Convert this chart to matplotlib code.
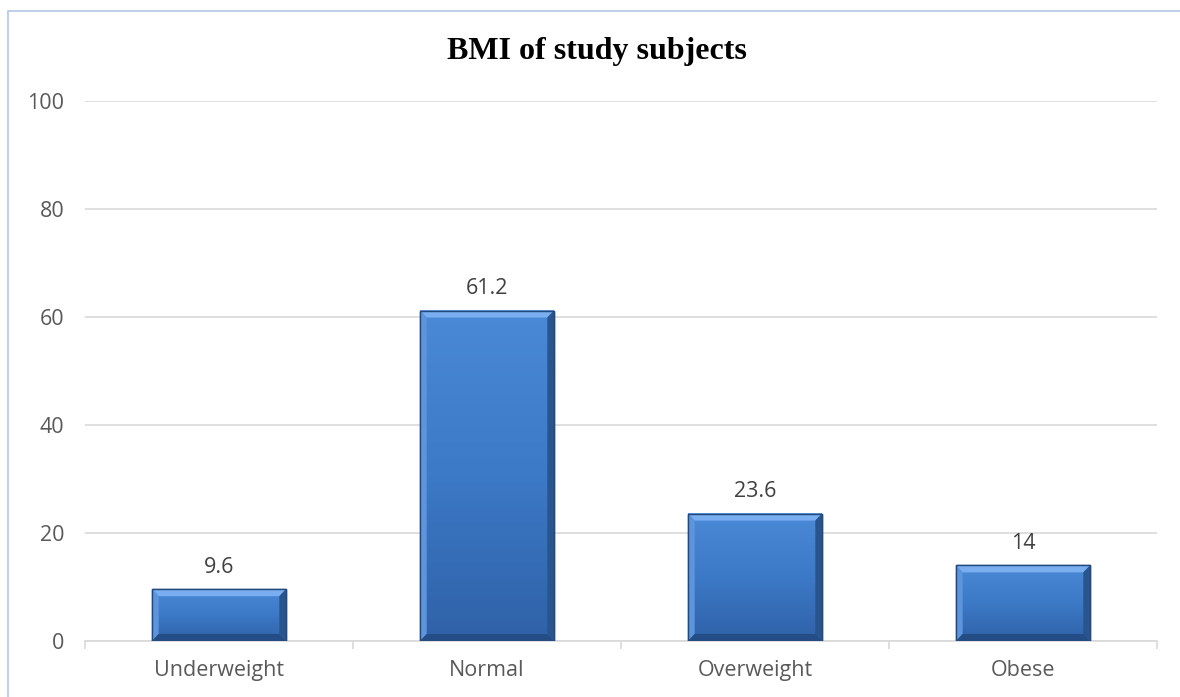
import matplotlib.pyplot as plt
import numpy as np
from matplotlib.patches import Rectangle, Polygon
from matplotlib.colors import LinearSegmentedColormap

categories = ['Underweight', 'Normal', 'Overweight', 'Obese']
values = [9.6, 61.2, 23.6, 14]
yticks = [0, 20, 40, 60, 80, 100]

fig = plt.figure(figsize=(11.8, 6.97), dpi=100)
ax = fig.add_axes([85/1180, 1-641/697, (1157-85)/1180, (641-101)/697])

# outer frame of the chart area
fig.patches.append(Rectangle((8/1180, -0.05), 1.1, 1-11/697+0.05, transform=fig.transFigure,
                             fill=False, edgecolor='#b4c7e7', linewidth=1.2))

x = np.arange(len(categories))
w = 0.5
cmap = LinearSegmentedColormap.from_list('b', ['#2f62a8', '#3c79c6', '#4a89d6'])

# bars with a bevelled look
ax.bar(x, values, width=w, color='#3e7ccb', edgecolor='#24487a', linewidth=1.0, zorder=3)
for xi, v in zip(x, values):
    l, r = xi - w/2, xi + w/2
    grad = np.linspace(0, 1, 50).reshape(-1, 1)
    ax.imshow(grad, extent=(l, r, 0, v), aspect='auto', cmap=cmap, origin='lower', zorder=3.1)
    bx = 0.025
    by = 1.3
    # top bevel (light)
    ax.add_patch(Polygon([(l, v), (r, v), (r - bx, v - by), (l + bx, v - by)],
                         closed=True, color='#79aef0', lw=0, zorder=3.2))
    # left bevel
    ax.add_patch(Polygon([(l, v), (l + bx, v - by), (l + bx, by), (l, 0)],
                         closed=True, color='#5c95dc', lw=0, zorder=3.2))
    # right bevel (dark)
    ax.add_patch(Polygon([(r, v), (r - bx, v - by), (r - bx, by), (r, 0)],
                         closed=True, color='#29558f', lw=0, zorder=3.2))
    # bottom bevel (dark)
    ax.add_patch(Polygon([(l, 0), (r, 0), (r - bx, by), (l + bx, by)],
                         closed=True, color='#244d85', lw=0, zorder=3.2))
    ax.add_patch(Rectangle((l, 0), w, v, fill=False, edgecolor='#24487a', lw=1.0, zorder=3.3))
    ax.text(xi, v + 3.0, f'{v:g}', ha='center', va='baseline', fontsize=15.5,
            color='#404040', family='Open Sans')

ax.set_xlim(-0.5, len(categories) - 0.5)
ax.set_ylim(0, 100)
ax.set_yticks(yticks)
ax.set_xticks(x)
ax.set_xticklabels(categories)
ax.set_xticks(np.arange(len(categories) + 1) - 0.5, minor=True)
ax.tick_params(axis='x', which='major', length=0, pad=14, labelsize=15.5, labelcolor='#595959')
ax.tick_params(axis='x', which='minor', length=6, color='#d9d9d9', width=1.2)
ax.tick_params(axis='y', length=0, pad=15, labelsize=15.5, labelcolor='#595959')
for lab in ax.get_xticklabels() + ax.get_yticklabels():
    lab.set_family('Open Sans')
ax.grid(axis='y', color='#d9d9d9', linewidth=1.2, zorder=0)
for s in ['top', 'right', 'left']:
    ax.spines[s].set_visible(False)
ax.spines['bottom'].set_color('#d9d9d9')
ax.spines['bottom'].set_linewidth(1.2)

fig.text(597/1180, 1-51/697, 'BMI of study subjects', ha='center', va='center',
         fontsize=23, fontweight='bold', family='Liberation Serif', color='black')

fig.savefig('out.png', dpi=100)
